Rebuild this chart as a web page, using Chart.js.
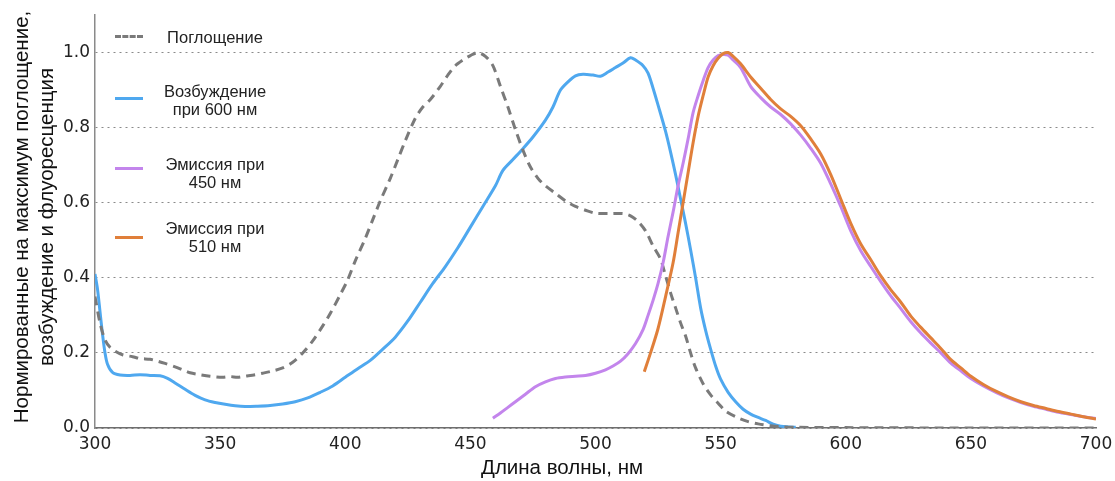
<!DOCTYPE html>
<html>
<head>
<meta charset="utf-8">
<script src="https://cdn.jsdelivr.net/npm/chart.js@4.4.1/dist/chart.umd.min.js"></script>
<style>
  html, body { margin: 0; padding: 0; background: #fff; }
  #wrap { position: relative; width: 1115px; height: 481px; }
  .leg { position: absolute; font-family: "Liberation Sans", Arial, sans-serif; font-size: 16.5px; color: #222; text-align: center; line-height: 18px; }
  .sw { position: absolute; height: 0; }
  #xt { position: absolute; font-family: "Liberation Sans", Arial, sans-serif; font-size: 20.5px; color: #111; white-space: nowrap; }
</style>
</head>
<body>
<div id="wrap">
  <canvas id="c" width="1115" height="481"></canvas>
  <div class="sw" style="left:115px; top:35px; width:28px; border-top:3px dashed #7a7a7a;"></div>
  <div class="leg" style="left:145px; top:28px; width:140px;">Поглощение</div>
  <div class="sw" style="left:115px; top:97px; width:28px; border-top:3px solid #4fa8ef;"></div>
  <div class="leg" style="left:145px; top:82px; width:140px;">Возбуждение<br>при 600 нм</div>
  <div class="sw" style="left:115px; top:167px; width:28px; border-top:3px solid #c385ec;"></div>
  <div class="leg" style="left:145px; top:155px; width:140px;">Эмиссия при<br>450 нм</div>
  <div class="sw" style="left:115px; top:236px; width:28px; border-top:3px solid #e07f3a;"></div>
  <div class="leg" style="left:145px; top:219px; width:140px;">Эмиссия при<br>510 нм</div>
  <div id="xt" style="left:481px; top:455px;">Длина волны, нм</div>
</div>
<script>
const absWl  = [300,302,304,306,308,311,315,318,322,325,328,332,335,338,342,346,351,354,357,360,364,367,371,375,379,383,387,391,394,398,401,404,408,411,414,418,421,424,428,431,434,438,441,444,447,450,453,456,459,462,465,468,471,474,477,480,484,488,492,496,500,505,511,514,517,520,523,526,528,530,532,534,536,538,540,543,546,549,552,556,561,565,570,575,580,600,650,700];
const absVal = [0.35,0.28,0.235,0.215,0.205,0.195,0.19,0.185,0.183,0.178,0.172,0.163,0.155,0.147,0.142,0.138,0.135,0.137,0.135,0.138,0.142,0.146,0.152,0.16,0.175,0.2,0.232,0.272,0.305,0.355,0.395,0.445,0.505,0.555,0.605,0.665,0.715,0.765,0.825,0.855,0.875,0.91,0.94,0.965,0.98,0.992,1.0,0.99,0.965,0.91,0.855,0.795,0.74,0.695,0.665,0.645,0.625,0.605,0.59,0.58,0.572,0.571,0.571,0.565,0.55,0.525,0.485,0.45,0.405,0.36,0.32,0.28,0.245,0.2,0.16,0.118,0.088,0.066,0.045,0.03,0.017,0.011,0.006,0.003,0.002,0.001,0.0,0.0];

const excWl  = [300,301,302,303,304,305,307,310,314,318,322,326,329,332,336,340,344,348,352,356,360,365,370,375,380,385,390,395,400,405,410,415,420,425,430,435,440,445,450,455,460,463,467,471,475,480,483,486,489,492,495,499,502,505,508,511,514,516,519,521,523,525,528,530,532,534,536,538,540,542,544,546,548,550,553,556,559,562,565,568,571,574,577,580];
const excVal = [0.41,0.37,0.31,0.25,0.2,0.17,0.148,0.141,0.14,0.142,0.14,0.139,0.132,0.12,0.103,0.087,0.075,0.068,0.063,0.059,0.057,0.058,0.06,0.064,0.07,0.08,0.095,0.112,0.135,0.158,0.18,0.21,0.242,0.285,0.335,0.385,0.43,0.48,0.535,0.59,0.645,0.686,0.715,0.744,0.775,0.82,0.855,0.9,0.922,0.938,0.942,0.94,0.937,0.948,0.96,0.972,0.986,0.98,0.965,0.945,0.905,0.86,0.79,0.735,0.675,0.61,0.545,0.475,0.4,0.32,0.26,0.21,0.165,0.13,0.095,0.07,0.05,0.037,0.028,0.02,0.01,0.005,0.003,0.002];

const em450Wl  = [459,462,465,468,472,476,480,484,488,492,496,500,504,507,510,513,516,519,521,523,525,527,529,531,533,535,537,539,541,543,545,547,549,551,553,555,558,562,566,570,574,578,582,586,590,594,598,602,606,610,614,618,622,626,630,634,638,642,646,650,655,660,665,670,675,680,685,690,695,700];
const em450Val = [0.026,0.04,0.055,0.07,0.09,0.11,0.123,0.132,0.136,0.138,0.14,0.146,0.155,0.165,0.178,0.198,0.225,0.262,0.3,0.34,0.385,0.44,0.51,0.575,0.645,0.705,0.77,0.84,0.885,0.925,0.96,0.98,0.992,0.995,0.993,0.98,0.96,0.91,0.88,0.855,0.835,0.81,0.78,0.745,0.705,0.65,0.59,0.525,0.472,0.43,0.39,0.352,0.318,0.283,0.253,0.226,0.2,0.173,0.152,0.132,0.112,0.095,0.08,0.068,0.058,0.05,0.042,0.036,0.03,0.025];

const em510Wl  = [519.5,522,525,528,531,533,535,537,539,541,543,545,547,549,551,553,555,558,562,566,570,574,578,582,586,590,594,598,602,606,610,614,618,622,626,630,634,638,642,646,650,655,660,665,670,675,680,685,690,695,700];
const em510Val = [0.15,0.2,0.265,0.35,0.44,0.52,0.6,0.68,0.76,0.83,0.885,0.935,0.965,0.985,0.997,1.0,0.99,0.97,0.935,0.905,0.875,0.85,0.83,0.805,0.77,0.73,0.675,0.61,0.545,0.49,0.448,0.405,0.368,0.335,0.298,0.268,0.24,0.212,0.182,0.16,0.138,0.116,0.098,0.083,0.07,0.06,0.052,0.044,0.037,0.03,0.024];

const xTicks = [300,350,400,450,500,550,600,650,700];
const yTicks = [0.0,0.2,0.4,0.6,0.8,1.0];

const seriesLabels = ['Поглощение','Возбуждение при 600 нм','Эмиссия при 450 нм','Эмиссия при 510 нм'];
const yTitleLines = ['Нормированные на максимум поглощение,', 'возбуждение и флуоресценция'];

function pts(xs, ys) { return xs.map((x, i) => ({x: x, y: ys[i]})); }

const yTitlePlugin = {
  id: 'yTitle',
  afterDraw(chart) {
    const ctx = chart.ctx;
    ctx.save();
    ctx.fillStyle = '#111';
    ctx.font = '20.5px "Liberation Sans", Arial, sans-serif';
    ctx.textAlign = 'center';
    ctx.textBaseline = 'alphabetic';
    const baselines = [28, 53];
    yTitleLines.forEach((t, i) => {
      ctx.save();
      ctx.translate(baselines[i], 217);
      ctx.rotate(-Math.PI / 2);
      ctx.fillText(t, 0, 0);
      ctx.restore();
    });
    ctx.restore();
  }
};

new Chart(document.getElementById('c'), {
  type: 'line',
  data: {
    datasets: [
      { label: seriesLabels[1], data: pts(excWl, excVal), borderColor: '#4fa8ef', borderWidth: 3, order: 3 },
      { label: seriesLabels[0], data: pts(absWl, absVal), borderColor: '#7a7a7a', borderWidth: 3, borderDash: [9, 6], order: 2 },
      { label: seriesLabels[2], data: pts(em450Wl, em450Val), borderColor: '#c385ec', borderWidth: 3, order: 1 },
      { label: seriesLabels[3], data: pts(em510Wl, em510Val), borderColor: '#e07f3a', borderWidth: 3, order: 0 }
    ]
  },
  options: {
    responsive: false,
    animation: false,
    parsing: false,
    elements: { point: { radius: 0 }, line: { tension: 0.3, fill: false } },
    layout: { padding: { top: 15, right: 19, left: 0, bottom: 0 } },
    plugins: { legend: { display: false }, tooltip: { enabled: false } },
    scales: {
      x: {
        type: 'linear', min: 300, max: 700,
        afterBuildTicks: (s) => { s.ticks = xTicks.map(v => ({value: v})); },
        afterFit: (s) => { s.height = 53; s.paddingLeft = 0; s.paddingRight = 0; },
        ticks: { font: { family: 'DejaVu Sans', size: 17 }, color: '#222', padding: 6, maxRotation: 0 },
        grid: { display: false, drawTicks: false },
        border: { display: true, color: '#6e6e6e', width: 1.5 }
      },
      y: {
        type: 'linear', min: 0, max: 1.1,
        afterBuildTicks: (s) => { s.ticks = yTicks.map(v => ({value: v})); },
        afterFit: (s) => { s.width = 95; s.paddingTop = 0; s.paddingBottom = 0; },
        ticks: { font: { family: 'DejaVu Sans', size: 17 }, color: '#222', padding: 5, callback: (v) => Number(v).toFixed(1) },
        grid: { display: true, color: '#8a8a8a', lineWidth: 1, drawTicks: false, tickLength: 0 },
        border: { display: true, color: '#8a8a8a', width: 1.5, dash: [2, 4] },
        title: { display: false }
      }
    }
  },
  plugins: [yTitlePlugin]
});
</script>
</body>
</html>
